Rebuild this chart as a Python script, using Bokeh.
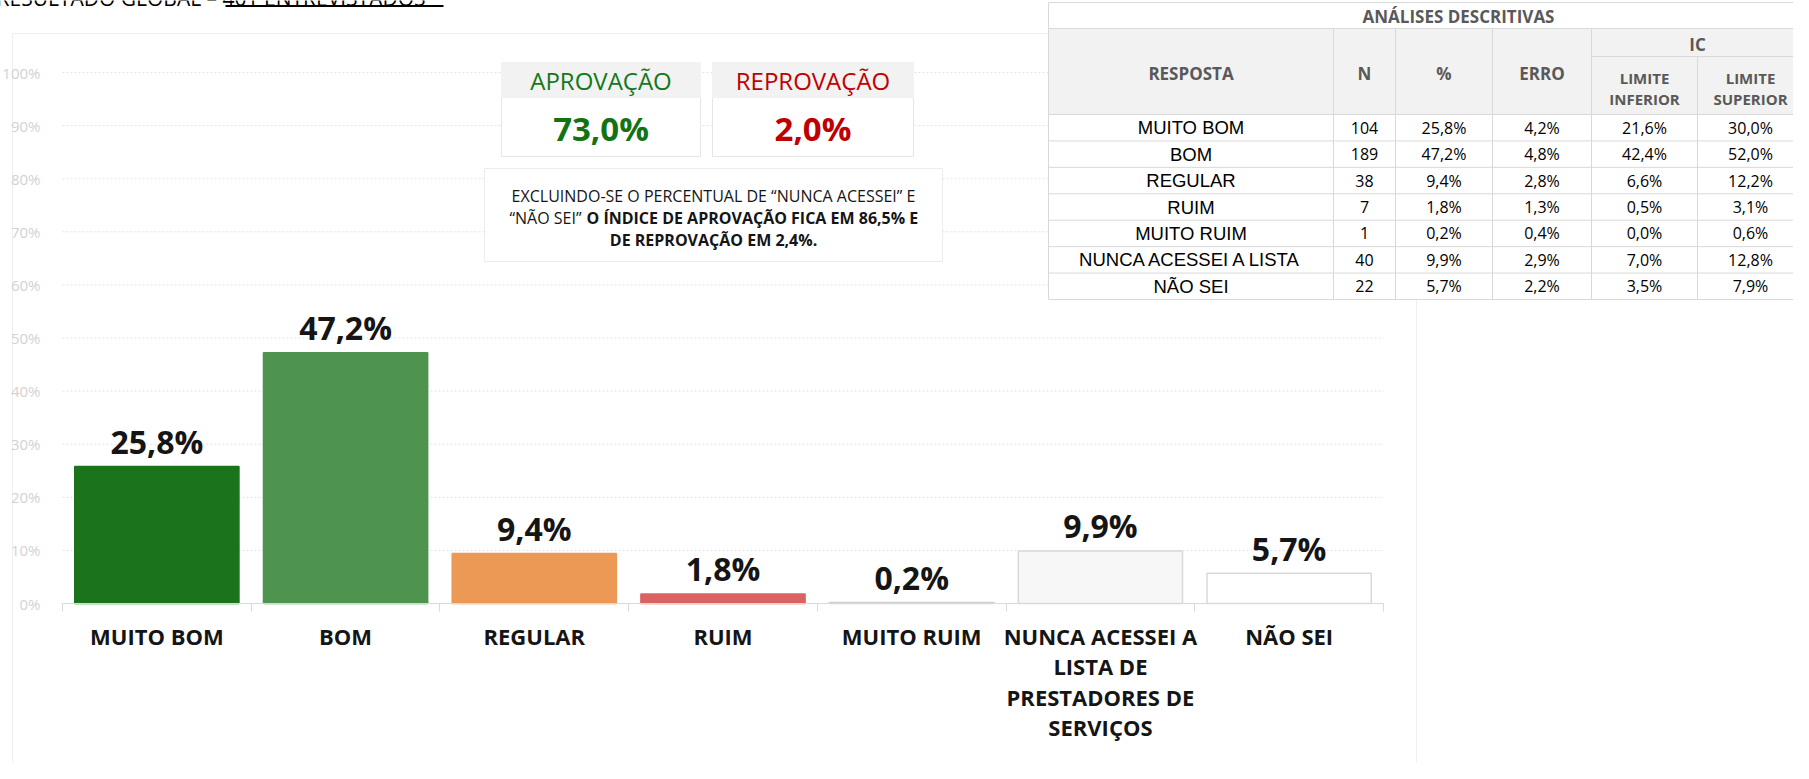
from bokeh.plotting import figure
from bokeh.models import Range1d, FixedTicker, LinearAxis, PrintfTickFormatter
from bokeh.core.properties import value
from bokeh.embed import file_html
from bokeh.resources import INLINE

# ---------------- data ----------------
categories = ["MUITO BOM", "BOM", "REGULAR", "RUIM", "MUITO RUIM",
              "NUNCA ACESSEI A\nLISTA DE\nPRESTADORES DE\nSERVIÇOS", "NÃO SEI"]
pct = [25.8, 47.2, 9.4, 1.8, 0.2, 9.9, 5.7]
bar_fill = ["#1b741b", "#4e944e", "#ec9955", "#d96363", "#d6d6d6", "#f7f7f7", "#ffffff"]
bar_line = ["#1b741b", "#4e944e", "#ec9955", "#d96363", "#d0d0d0", "#d9d9d9", "#d9d9d9"]
y_ticks = [0, 10, 20, 30, 40, 50, 60, 70, 80, 90, 100]

aprovacao = 73.0
reprovacao = 2.0
note_line1 = "EXCLUINDO-SE O PERCENTUAL DE “NUNCA ACESSEI” E"
note_line2_regular = "“NÃO SEI”"
note_line2_bold = "O ÍNDICE DE APROVAÇÃO FICA EM 86,5% E"
note_line3_bold = "DE REPROVAÇÃO EM 2,4%."
title_text = "RESULTADO GLOBAL – 401 ENTREVISTADOS"

tbl_title = "ANÁLISES DESCRITIVAS"
tbl_resposta = ["MUITO BOM", "BOM", "REGULAR", "RUIM", "MUITO RUIM", "NUNCA ACESSEI A LISTA", "NÃO SEI"]
tbl_n = [104, 189, 38, 7, 1, 40, 22]
tbl_pct = [25.8, 47.2, 9.4, 1.8, 0.2, 9.9, 5.7]
tbl_erro = [4.2, 4.8, 2.8, 1.3, 0.4, 2.9, 2.2]
tbl_li = [21.6, 42.4, 6.6, 0.5, 0.0, 7.0, 3.5]
tbl_ls = [30.0, 52.0, 12.2, 3.1, 0.6, 12.8, 7.9]


def fmt(v):
    return f"{v:.1f}".replace(".", ",") + "%"


# ---------------- geometry (canvas pixels) ----------------
W, H = 1793, 763
X_LEFT, X_RIGHT = 62, 1383      # canvas x of -0.5 and 6.5
Y_ZERO, Y_HUNDRED = 603, 72     # canvas y of 0% and 100%

unit = (X_RIGHT - X_LEFT) / len(categories)
ppu = (Y_ZERO - Y_HUNDRED) / 100.0
x_start = -0.5 - X_LEFT / unit
x_end = -0.5 + (W - X_LEFT) / unit
y_start = -(H - Y_ZERO) / ppu
y_end = Y_ZERO / ppu

p = figure(width=W, height=H, output_backend="svg", toolbar_location=None,
           x_range=Range1d(x_start, x_end), y_range=Range1d(y_start, y_end),
           x_axis_type=None, y_axis_type=None, min_border=0,
           min_border_left=0, min_border_right=0, min_border_top=0, min_border_bottom=0)
p.outline_line_color = None
p.background_fill_color = "white"
p.border_fill_color = "white"
p.extra_x_ranges = {"px": Range1d(0, W)}
p.extra_y_ranges = {"py": Range1d(H, 0)}

PXR = dict(x_range_name="px", y_range_name="py")
OPEN = value("Open Sans")

# faint chart container border
p.segment(x0=[12, 1416, 12], y0=[33, 33, 33], x1=[1416, 1416, 12], y1=[33, 800, 800],
          line_color="#efefef", line_width=1, **PXR)

# cut-off title at the very top (only its bottom edge is visible, as in the original)
p.text(x=[-4], y=[-3], text=[title_text], text_font=OPEN, text_font_size="21px",
       text_color="#000000", text_align="left", text_baseline="alphabetic", **PXR)
p.segment(x0=[225], y0=[5.5], x1=[443], y1=[5.5], line_color="#000000", line_width=2, **PXR)

# grid lines (data coords)
grid_y = y_ticks[1:]
p.segment(x0=[-0.5] * len(grid_y), y0=grid_y, x1=[6.5] * len(grid_y), y1=grid_y,
          line_color="#e2e2e2", line_width=1, line_dash="2 2")

# bars
xs = list(range(len(categories)))
p.vbar(x=xs, top=pct, bottom=0, width=0.87, fill_color=bar_fill, line_color=bar_line,
       line_width=1.5)
p.text(x=xs, y=pct, text=[fmt(v) for v in pct], text_font=OPEN, text_font_size="32px",
       text_font_style="bold", text_color="#151515", text_align="center",
       text_baseline="middle", y_offset=-25)

# axes
yaxis = LinearAxis(ticker=FixedTicker(ticks=y_ticks), fixed_location=-0.5, bounds=(0, 100),
                   formatter=PrintfTickFormatter(format="%d%%"),
                   axis_line_color=None, major_tick_line_color=None, minor_tick_line_color=None,
                   major_label_text_color="#d2d2d2", major_label_text_font="Open Sans",
                   major_label_text_font_size="15px", major_label_standoff=16)
p.add_layout(yaxis, "left")

bounds_ticks = [i - 0.5 for i in range(len(categories) + 1)]
xaxis_ticks = LinearAxis(ticker=FixedTicker(ticks=bounds_ticks), fixed_location=0,
                         bounds=(-0.5, 6.5), axis_line_color="#d9d9d9", axis_line_width=1,
                         major_tick_line_color="#d9d9d9", major_tick_out=8, major_tick_in=0,
                         minor_tick_line_color=None,
                         major_label_overrides={t: "" for t in bounds_ticks})
p.add_layout(xaxis_ticks, "below")

# category labels (multi-line, tight line height)
p.text(x=xs, y=[0] * len(xs), text=categories, text_font=OPEN, text_font_size="22px",
       text_font_style="bold", text_color="#151515", text_align="center",
       text_baseline="top", text_line_height=1.02, y_offset=17)

# ---------------- KPI boxes ----------------
box_l = [501, 712]
box_r = [700, 913]
p.quad(left=box_l, right=box_r, top=[62, 62], bottom=[156, 156], fill_color="white",
       line_color="#e6e6e6", line_width=1, **PXR)
p.quad(left=box_l, right=box_r, top=[62, 62], bottom=[97, 97], fill_color="#f2f2f2",
       line_color="#f2f2f2", line_width=1, **PXR)
box_cx = [(a + b) / 2 for a, b in zip(box_l, box_r)]
p.text(x=box_cx, y=[80, 80], text=["APROVAÇÃO", "REPROVAÇÃO"], text_font=OPEN,
       text_font_size="24px", text_color=["#12781a", "#c00000"], text_align="center",
       text_baseline="middle", **PXR)
p.text(x=box_cx, y=[128, 128], text=[fmt(aprovacao), fmt(reprovacao)], text_font=OPEN,
       text_font_size="33px", text_font_style="bold", text_color=["#137313", "#c00000"],
       text_align="center", text_baseline="middle", **PXR)

# note box
p.quad(left=[484], right=[942], top=[168], bottom=[261], fill_color="white",
       line_color="#ececec", line_width=1, **PXR)
p.text(x=[713], y=[195], text=[note_line1], text_font=OPEN, text_font_size="16px",
       text_color="#151515", text_align="center", text_baseline="middle", **PXR)
p.text(x=[581], y=[217], text=[note_line2_regular], text_font=OPEN, text_font_size="16px",
       text_color="#151515", text_align="right", text_baseline="middle", **PXR)
p.text(x=[586], y=[217], text=[note_line2_bold], text_font=OPEN, text_font_size="16px",
       text_font_style="bold", text_color="#151515", text_align="left",
       text_baseline="middle", **PXR)
p.text(x=[713], y=[239], text=[note_line3_bold], text_font=OPEN, text_font_size="16px",
       text_font_style="bold", text_color="#151515", text_align="center",
       text_baseline="middle", **PXR)

# ---------------- table ----------------
col_edges = [1048, 1333, 1395, 1492, 1591, 1697, 1812]
T_TOP, T_TITLE_B, T_IC_B, T_HEAD_B, T_BOT = 2, 28, 56, 114, 299
n_rows = len(tbl_resposta)
row_h = (T_BOT - T_HEAD_B) / n_rows
row_cy = [T_HEAD_B + row_h * (i + 0.5) for i in range(n_rows)]
col_cx = [(col_edges[i] + col_edges[i + 1]) / 2 for i in range(len(col_edges) - 1)]
col_cx[-1] = 1750

p.quad(left=[col_edges[0]], right=[col_edges[-1]], top=[T_TOP], bottom=[T_BOT],
       fill_color="white", line_color=None, **PXR)
p.quad(left=[col_edges[0]], right=[col_edges[-1]], top=[T_TITLE_B], bottom=[T_HEAD_B],
       fill_color="#f2f2f2", line_color=None, **PXR)

hx0 = [col_edges[0], col_edges[0], col_edges[4], col_edges[0]] + [col_edges[0]] * (n_rows - 1) + [col_edges[0]]
hx1 = [col_edges[-1]] * len(hx0)
hy = [T_TOP, T_TITLE_B, T_IC_B, T_HEAD_B] + [T_HEAD_B + row_h * (i + 1) for i in range(n_rows - 1)] + [T_BOT]
p.segment(x0=hx0, y0=hy, x1=hx1, y1=hy, line_color="#d9d9d9", line_width=1, **PXR)
vx = [col_edges[0], col_edges[1], col_edges[2], col_edges[3], col_edges[4], col_edges[5]]
vy0 = [T_TOP, T_TITLE_B, T_TITLE_B, T_TITLE_B, T_TITLE_B, T_IC_B]
p.segment(x0=vx, y0=vy0, x1=vx, y1=[T_BOT] * len(vx), line_color="#d9d9d9", line_width=1, **PXR)

p.text(x=[1458], y=[16], text=[tbl_title], text_font=OPEN, text_font_size="17px",
       text_font_style="bold", text_color="#595959", text_align="center",
       text_baseline="middle", **PXR)
p.text(x=col_cx[:4], y=[73] * 4, text=["RESPOSTA", "N", "%", "ERRO"], text_font=OPEN,
       text_font_size="17px", text_font_style="bold", text_color="#595959",
       text_align="center", text_baseline="middle", **PXR)
p.text(x=[(col_cx[4] + col_cx[5]) / 2], y=[44], text=["IC"], text_font=OPEN,
       text_font_size="17px", text_font_style="bold", text_color="#595959",
       text_align="center", text_baseline="middle", **PXR)
p.text(x=[col_cx[4], col_cx[5]], y=[77, 77], text=["LIMITE", "LIMITE"], text_font=OPEN,
       text_font_size="15px", text_font_style="bold", text_color="#595959",
       text_align="center", text_baseline="middle", **PXR)
p.text(x=[col_cx[4], col_cx[5]], y=[98, 98], text=["INFERIOR", "SUPERIOR"], text_font=OPEN,
       text_font_size="15px", text_font_style="bold", text_color="#595959",
       text_align="center", text_baseline="middle", **PXR)

p.text(x=[col_cx[0]] * n_rows, y=row_cy, text=tbl_resposta, text_font=value("Liberation Sans"),
       text_font_size="18.5px", text_color="#000000", text_align="center",
       text_baseline="middle", **PXR)
for ci, col in enumerate([[str(v) for v in tbl_n], [fmt(v) for v in tbl_pct],
                          [fmt(v) for v in tbl_erro], [fmt(v) for v in tbl_li],
                          [fmt(v) for v in tbl_ls]]):
    p.text(x=[col_cx[ci + 1]] * n_rows, y=row_cy, text=col, text_font=OPEN,
           text_font_size="16px", text_color="#000000", text_align="center",
           text_baseline="middle", **PXR)

open("out.html", "w").write(file_html(p, INLINE))
